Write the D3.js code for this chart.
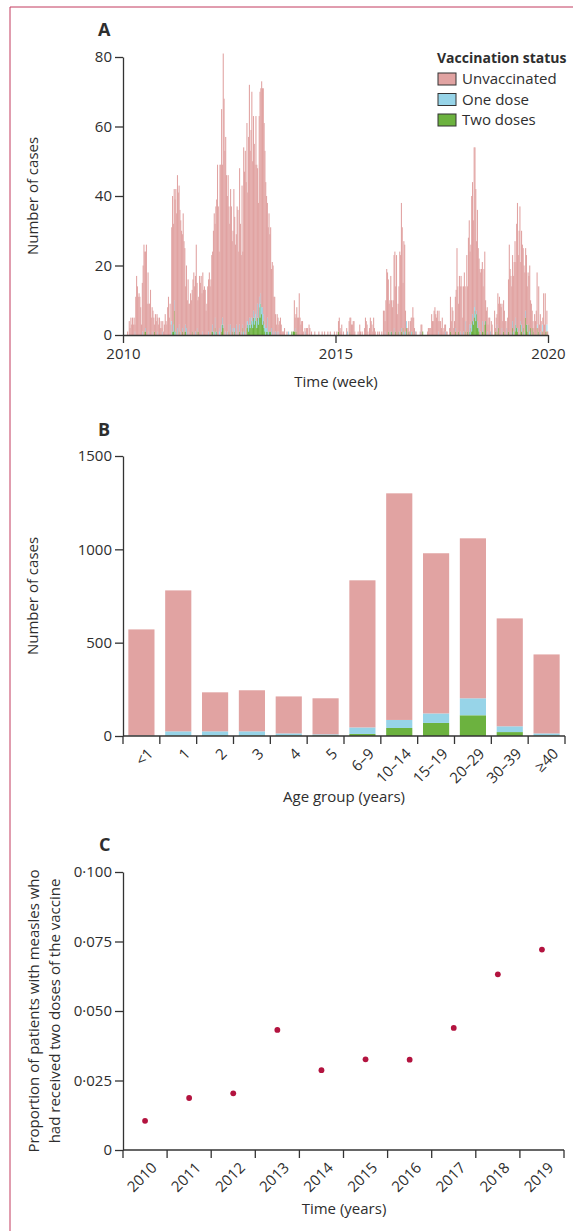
<!DOCTYPE html>
<html>
<head>
<meta charset="utf-8">
<script src="https://cdnjs.cloudflare.com/ajax/libs/d3/7.8.5/d3.min.js"></script>
<style>
body { margin: 0; background: #fff; }
svg text { font-family: "Open Sans", sans-serif; fill: #2e2e2e; }
</style>
</head>
<body>
<script>
// weekly measles cases, one line per year 2010..2019 (52 weeks each)
var weeklyCases = [
  0,0,0,0,0,1,0,4,2,5, 3,5,3,5,3,11,17,14,11,12, 11,8,3,15,20,26,24,24,26,9, 18,9,9,13,5,8,7,5,3,6, 4,6,5,3,5,2,4,2,4,1, 3,6,
  4,3,8,11,5,9,3,31,40,32, 42,39,42,35,46,41,43,36,33,30, 29,35,27,25,14,20,10,16,9,9, 12,10,13,16,18,14,17,26,15,10, 11,17,15,17,12,18,13,14,13,7, 9,14,
  16,18,14,16,23,24,30,35,32,37, 39,49,37,24,49,49,65,49,81,68, 53,57,46,40,46,37,32,42,37,27, 30,42,34,26,29,37,36,24,48,32, 23,43,24,54,47,53,44,61,41,57, 72,53,
  59,70,50,63,55,49,63,49,48,38, 63,70,71,73,71,71,61,53,44,40, 38,31,35,29,31,19,21,20,11,11, 6,3,6,5,3,4,5,3,1,1, 1,2,0,0,1,0,1,0,0,0, 1,0,
  1,10,5,6,8,5,5,12,5,3, 4,4,1,0,2,1,2,2,0,3, 2,0,1,0,0,0,1,0,0,0, 0,1,0,0,0,1,0,0,1,0, 0,0,1,0,0,1,0,0,0,0, 1,0,
  0,1,0,4,5,2,1,3,0,1, 0,0,0,2,1,0,4,5,5,3, 3,4,4,1,0,0,0,1,0,3, 1,0,1,0,0,2,5,4,3,1, 0,2,5,4,3,1,5,2,1,0, 0,1,
  0,1,0,0,1,0,7,7,4,10, 19,18,16,9,10,17,10,8,10,23, 24,14,23,6,9,14,24,23,38,31, 15,27,26,7,4,2,2,4,1,4, 5,5,8,5,2,1,1,0,0,0, 0,1,
  3,3,1,0,0,0,0,0,1,2, 2,2,2,6,4,4,7,8,6,5, 7,4,7,4,4,2,5,1,2,3, 3,1,1,0,0,2,11,4,8,7, 2,4,11,13,25,14,9,17,14,17, 14,5,
  14,18,14,4,23,14,28,33,24,26, 40,44,33,54,54,42,27,36,25,22, 19,18,19,21,14,19,24,10,7,8, 3,5,5,1,4,3,0,0,7,2, 5,6,12,9,11,9,8,9,4,10, 7,4,
  4,2,5,16,26,19,17,14,23,17, 21,27,21,32,38,23,30,37,21,30, 26,25,20,18,25,23,14,18,17,20, 10,9,7,4,2,6,4,7,18,2, 14,3,6,4,1,5,12,3,12,1, 7,1
];
var weeklyOneDose = [
  0,0,0,0,0,0,0,0,0,0, 0,0,0,0,1,0,0,0,0,0, 0,0,0,1,0,0,0,1,0,0, 0,1,0,0,0,1,0,0,0,0, 0,0,1,0,0,0,0,0,1,0, 0,0,
  0,0,0,0,0,0,0,4,0,2, 3,1,0,0,2,0,2,0,1,0, 1,0,0,0,2,2,0,0,1,0, 0,0,0,0,0,0,1,0,1,0, 0,0,0,0,0,1,0,0,0,0, 0,0,
  1,0,0,0,0,2,1,0,3,1, 0,0,0,2,1,0,2,2,1,0, 0,1,0,1,0,2,0,3,0,1, 0,2,1,0,3,0,1,0,2,0, 1,0,1,1,0,2,0,2,1,2, 2,1,
  2,1,2,2,2,1,3,2,4,2, 3,4,3,2,5,2,1,3,2,1, 4,1,0,0,0,2,0,0,1,0, 1,0,1,0,1,0,0,0,0,0, 0,0,0,0,0,0,1,0,0,0, 0,0,
  0,0,1,0,0,0,0,0,0,0, 0,0,0,0,0,1,0,0,0,0, 0,0,0,0,0,0,0,0,0,0, 0,0,0,0,0,0,0,0,0,0, 0,0,0,0,0,0,0,0,0,0, 0,0,
  0,0,0,0,0,0,0,0,0,0, 0,0,0,0,1,0,0,0,0,0, 0,0,0,0,0,0,0,0,0,0, 0,0,0,0,0,0,0,0,0,0, 0,0,0,0,0,0,0,0,0,0, 0,0,
  0,0,0,0,0,0,0,0,1,0, 0,0,0,0,0,1,0,0,0,2, 0,0,0,0,0,0,1,0,1,0, 0,1,0,1,2,0,0,0,0,0, 1,0,0,0,0,1,0,0,0,0, 0,0,
  1,0,0,0,0,0,0,0,0,0, 0,0,0,0,0,0,0,0,0,0, 0,1,0,0,0,0,0,0,0,0, 1,0,0,0,0,0,0,0,0,0, 0,0,1,0,0,0,0,0,1,0, 0,0,
  1,0,3,0,0,0,0,2,1,2, 2,2,1,3,3,2,1,2,0,1, 0,1,0,3,0,0,1,0,0,1, 0,0,0,1,0,0,0,0,0,0, 0,2,0,0,0,0,0,2,0,0, 0,0,
  0,2,0,0,0,0,1,0,2,1, 0,2,2,0,1,0,1,0,1,2, 0,0,1,0,2,0,2,0,0,1, 0,0,0,0,0,0,0,0,1,0, 0,0,1,0,0,2,0,0,0,0, 2,0
];
var weeklyTwoDoses = [
  0,0,0,0,0,0,0,0,0,0, 0,0,0,0,0,0,0,0,0,0, 0,0,0,0,0,0,1,1,0,0, 0,0,0,0,0,0,0,0,1,0, 0,0,0,0,0,0,0,0,0,0, 0,0,
  0,0,0,0,0,0,0,0,1,1, 7,0,1,0,0,0,1,0,0,0, 1,0,0,1,1,0,0,0,0,0, 0,0,1,0,0,0,0,0,1,0, 1,0,0,0,0,0,0,0,0,0, 0,0,
  0,0,0,0,1,1,0,0,2,0, 1,0,0,0,0,0,1,3,2,0, 0,0,0,0,0,1,0,0,0,1, 0,0,1,0,0,0,0,0,1,0, 0,0,2,0,0,0,0,2,3,1, 3,2,
  3,4,2,5,3,5,4,2,5,3, 8,5,9,6,3,4,2,1,0,1, 1,0,1,1,1,0,0,0,0,0, 0,0,0,0,0,0,0,0,0,0, 0,0,0,0,0,0,0,0,0,0, 1,0,
  1,1,1,0,1,0,0,0,0,0, 0,0,0,0,0,0,0,0,0,0, 0,0,0,0,0,0,0,0,0,0, 0,0,0,0,0,0,0,0,0,0, 0,0,0,0,0,0,0,0,0,0, 0,0,
  0,0,0,1,0,0,0,0,0,0, 0,0,0,0,0,0,0,1,0,0, 0,0,0,0,0,0,0,0,0,0, 0,0,0,0,0,0,0,0,0,0, 0,0,0,0,0,0,0,0,0,0, 0,0,
  0,0,0,0,0,0,0,0,0,0, 0,0,1,0,0,0,1,0,0,0, 0,1,0,0,1,0,0,0,1,0, 2,0,0,0,2,0,0,1,0,0, 0,1,0,0,0,0,0,0,0,0, 0,0,
  0,0,1,0,0,0,0,0,0,0, 0,0,0,0,0,0,0,0,0,0, 0,0,0,0,0,0,0,0,0,0, 0,0,0,0,0,0,1,0,0,0, 0,0,1,0,0,0,1,0,0,0, 0,0,
  0,0,1,0,0,1,0,1,0,2, 1,4,3,5,7,4,6,2,2,1, 0,0,0,1,1,0,3,4,0,0, 0,0,0,0,0,0,0,0,0,1, 0,1,0,2,0,0,0,0,0,1, 0,0,
  0,0,0,1,0,0,0,0,2,0, 0,1,3,2,1,0,0,0,3,1, 0,2,0,0,5,3,1,0,3,0, 2,0,2,0,1,0,0,0,2,0, 1,0,0,0,0,1,0,0,1,0, 1,0
];
var firstYear = 2010;
var yearTicksA = [2010, 2015, 2020];
var casesTicksA = [0, 20, 40, 60, 80];

var statusKeys = ["twoDoses", "oneDose", "unvaccinated"];
var legendKeys = ["unvaccinated", "oneDose", "twoDoses"];
var legendLabels = ["Unvaccinated", "One dose", "Two doses"];
var statusColors = { unvaccinated: "#e1a3a2", oneDose: "#97d4e8", twoDoses: "#6cb23f" };

// panel B
var ageGroups = ["<1", "1", "2", "3", "4", "5", "6–9", "10–14", "15–19", "20–29", "30–39", "≥40"];
var ageUnvaccinated = [568, 755, 209, 220, 198, 193, 788, 1214, 858, 857, 578, 423];
var ageOneDose = [2, 23, 22, 22, 11, 6, 35, 43, 51, 91, 31, 11];
var ageTwoDoses = [1, 2, 3, 3, 3, 3, 11, 43, 70, 111, 21, 3];
var casesTicksB = [0, 500, 1000, 1500];

// panel C
var years = [2010, 2011, 2012, 2013, 2014, 2015, 2016, 2017, 2018, 2019];
var twoDoseShare = [0.0105, 0.0187, 0.0204, 0.0432, 0.0287, 0.0326, 0.0325, 0.0439, 0.0632, 0.0721];
var shareTicks = [0, 0.025, 0.05, 0.075, 0.1];

var W = 573, H = 1231;
var ink = "#333";
var fs = 15;
var svg = d3.select("body").append("svg").attr("width", W).attr("height", H);

// frame of the figure
svg.append("line").attr("x1", 10).attr("y1", 7).attr("x2", 10).attr("y2", H).attr("stroke", "#c23b5f").attr("stroke-width", 1);
svg.append("line").attr("x1", 10).attr("y1", 7).attr("x2", W).attr("y2", 7).attr("stroke", "#c23b5f").attr("stroke-width", 1);

function styleAxis(g) {
  g.attr("font-family", null).attr("font-size", fs).attr("color", ink);
  g.selectAll("path, line").attr("stroke", ink).attr("stroke-width", 1.3);
}
function panelLetter(txt, x, y) {
  svg.append("text").attr("x", x).attr("y", y).attr("font-size", 18).attr("font-weight", "bold").text(txt);
}
function yTitle(lines, x0, cy) {
  lines.forEach(function(t, i) {
    svg.append("text").attr("transform", "translate(" + (x0 + i * 21) + "," + cy + ") rotate(-90)")
      .attr("text-anchor", "middle").attr("font-size", fs).text(t);
  });
}
function xTitle(t, cx, y) {
  svg.append("text").attr("x", cx).attr("y", y).attr("text-anchor", "middle").attr("font-size", fs).text(t);
}

// ---------- A ----------
panelLetter("A", 98, 36);
var xA = d3.scaleLinear().domain([firstYear, firstYear + 10]).range([123, 548]);
var yA = d3.scaleLinear().domain([0, 80]).range([335, 57]);
var weekRows = weeklyCases.map(function(c, i) {
  return { t: firstYear + i / 52, twoDoses: weeklyTwoDoses[i], oneDose: weeklyOneDose[i],
           unvaccinated: c - weeklyOneDose[i] - weeklyTwoDoses[i] };
});
var barW = xA(firstYear + 1 / 52) - xA(firstYear);
svg.append("g").selectAll("g").data(d3.stack().keys(statusKeys)(weekRows)).enter().append("g")
  .attr("fill", function(d) { return statusColors[d.key]; })
  .selectAll("rect").data(function(d) { return d.filter(function(p) { return p[1] > p[0]; }); })
  .enter().append("rect")
  .attr("x", function(d) { return xA(d.data.t); })
  .attr("width", barW + 0.25)
  .attr("y", function(d) { return yA(d[1]); })
  .attr("height", function(d) { return yA(d[0]) - yA(d[1]); });

svg.append("g").attr("transform", "translate(0,335)")
  .call(d3.axisBottom(xA).tickValues(yearTicksA).tickFormat(d3.format("d")).tickSize(8).tickSizeOuter(0).tickPadding(5))
  .call(styleAxis);
svg.append("g").attr("transform", "translate(123,0)")
  .call(d3.axisLeft(yA).tickValues(casesTicksA).tickSize(8).tickSizeOuter(0).tickPadding(3))
  .call(styleAxis);
yTitle(["Number of cases"], 38, 196);
xTitle("Time (week)", 336, 387);

// legend
var leg = svg.append("g").attr("transform", "translate(437,0)");
leg.append("text").attr("x", 0).attr("y", 63).attr("font-size", 14).attr("font-weight", "bold").text("Vaccination status");
legendKeys.forEach(function(k, i) {
  leg.append("rect").attr("x", 1).attr("y", 73 + i * 20.5).attr("width", 18).attr("height", 12)
    .attr("fill", statusColors[k]).attr("stroke", ink).attr("stroke-width", 1);
  leg.append("text").attr("x", 25).attr("y", 84 + i * 20.5).attr("font-size", fs).text(legendLabels[i]);
});

// ---------- B ----------
panelLetter("B", 98, 436);
var xB = d3.scaleBand().domain(ageGroups).range([123, 565]).paddingInner(0.29).paddingOuter(0.145);
var yB = d3.scaleLinear().domain([0, 1500]).range([736, 456]);
var ageRows = ageGroups.map(function(g, i) {
  return { group: g, unvaccinated: ageUnvaccinated[i], oneDose: ageOneDose[i], twoDoses: ageTwoDoses[i] };
});
svg.append("g").selectAll("g").data(d3.stack().keys(statusKeys)(ageRows)).enter().append("g")
  .attr("fill", function(d) { return statusColors[d.key]; })
  .selectAll("rect").data(function(d) { return d; }).enter().append("rect")
  .attr("x", function(d) { return xB(d.data.group); })
  .attr("width", xB.bandwidth())
  .attr("y", function(d) { return yB(d[1]); })
  .attr("height", function(d) { return yB(d[0]) - yB(d[1]); });

svg.append("g").attr("transform", "translate(123,0)")
  .call(d3.axisLeft(yB).tickValues(casesTicksB).tickFormat(d3.format("d")).tickSize(8).tickSizeOuter(0).tickPadding(3))
  .call(styleAxis);

function bandAxis(x, y0, labels) {
  var g = svg.append("g").attr("transform", "translate(0," + y0 + ")");
  var r = x.range();
  g.append("line").attr("x1", r[0]).attr("x2", r[1]).attr("stroke", ink).attr("stroke-width", 1.3);
  d3.range(x.domain().length + 1).forEach(function(i) {
    var xp = r[0] + i * x.step();
    g.append("line").attr("x1", xp).attr("x2", xp).attr("y1", 0).attr("y2", 8).attr("stroke", ink).attr("stroke-width", 1.3);
  });
  g.selectAll("text.lab").data(x.domain()).enter().append("text")
    .attr("class", "lab")
    .attr("transform", function(d) { return "translate(" + (x(d) + x.bandwidth() / 2 + 9) + ",15) rotate(-45)"; })
    .attr("text-anchor", "end").attr("font-size", fs).attr("dy", "0.35em")
    .text(function(d, i) { return labels[i]; });
}
bandAxis(xB, 736, ageGroups);
yTitle(["Number of cases"], 38, 596);
xTitle("Age group (years)", 344, 802);

// ---------- C ----------
panelLetter("C", 99, 851);
var xC = d3.scaleBand().domain(years).range([123, 564]);
var yC = d3.scaleLinear().domain([0, 0.1]).range([1150, 872]);
svg.append("g").selectAll("circle").data(years).enter().append("circle")
  .attr("cx", function(d) { return xC(d) + xC.bandwidth() / 2; })
  .attr("cy", function(d, i) { return yC(twoDoseShare[i]); })
  .attr("r", 2.9).attr("fill", "#b3133f");

svg.append("g").attr("transform", "translate(123,0)")
  .call(d3.axisLeft(yC).tickValues(shareTicks).tickSize(8).tickSizeOuter(0).tickPadding(3)
    .tickFormat(function(d) { return d === 0 ? "0" : d3.format(".3f")(d).replace(".", "·"); }))
  .call(styleAxis);
bandAxis(xC, 1150, years.map(String));
yTitle(["Proportion of patients with measles who", "had received two doses of the vaccine"], 39, 1011);
xTitle("Time (years)", 344, 1214);
</script>
</body>
</html>
